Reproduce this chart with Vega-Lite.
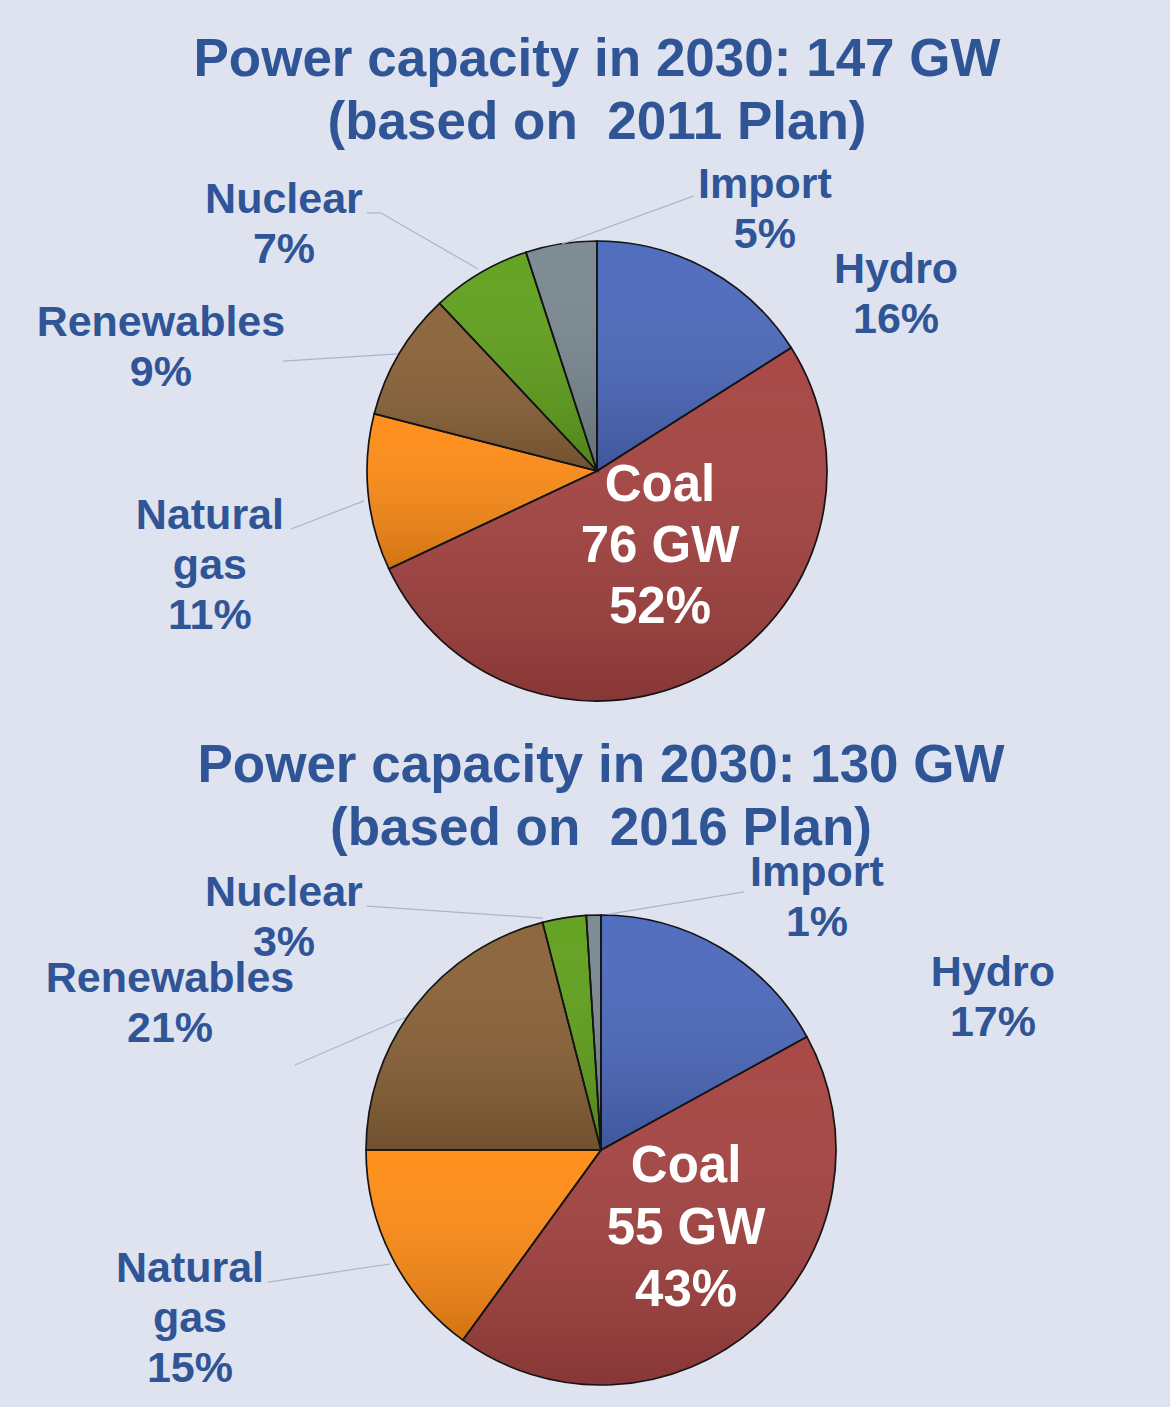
{
  "$schema": "https://vega.github.io/schema/vega-lite/v6.json",
  "background": "#dfe3ef",
  "padding": {"left": 32, "top": 33, "right": 0, "bottom": 0},
  "spacing": 9,
  "config": {
    "view": {"stroke": null},
    "font": "Liberation Sans",
    "title": {"font": "Liberation Sans", "fontSize": 53, "fontWeight": "bold", "color": "#2f5597", "lineHeight": 63, "anchor": "middle"}
  },
  "datasets": {
    "shares": [
      {"plan": "2011 Plan", "source": "Hydro", "share": 16, "rank": 1},
      {"plan": "2011 Plan", "source": "Coal", "share": 52, "gw": 76, "rank": 2},
      {"plan": "2011 Plan", "source": "Natural gas", "share": 11, "rank": 3},
      {"plan": "2011 Plan", "source": "Renewables", "share": 9, "rank": 4},
      {"plan": "2011 Plan", "source": "Nuclear", "share": 7, "rank": 5},
      {"plan": "2011 Plan", "source": "Import", "share": 5, "rank": 6},
      {"plan": "2016 Plan", "source": "Hydro", "share": 17, "rank": 1},
      {"plan": "2016 Plan", "source": "Coal", "share": 43, "gw": 55, "rank": 2},
      {"plan": "2016 Plan", "source": "Natural gas", "share": 15, "rank": 3},
      {"plan": "2016 Plan", "source": "Renewables", "share": 21, "rank": 4},
      {"plan": "2016 Plan", "source": "Nuclear", "share": 3, "rank": 5},
      {"plan": "2016 Plan", "source": "Import", "share": 1, "rank": 6}
    ],
    "layout_2011": [
      {"source": "Hydro", "lx": 1.300, "ly": 0.817},
      {"source": "Coal", "lx": 0.274, "ly": -0.130},
      {"source": "Natural gas", "lx": -1.683, "ly": -0.252},
      {"source": "Renewables", "lx": -1.896, "ly": 0.587},
      {"source": "Nuclear", "lx": -1.361, "ly": 1.122},
      {"source": "Import", "lx": 0.730, "ly": 1.187}
    ],
    "layout_2016": [
      {"source": "Hydro", "lx": 1.668, "ly": 0.698},
      {"source": "Coal", "lx": 0.362, "ly": -0.136},
      {"source": "Natural gas", "lx": -1.749, "ly": -0.562},
      {"source": "Renewables", "lx": -1.834, "ly": 0.672},
      {"source": "Nuclear", "lx": -1.349, "ly": 1.038},
      {"source": "Import", "lx": 0.919, "ly": 1.123}
    ],
    "leaders": [
      {"plan": "2011 Plan", "source": "Import", "x": 0.422, "y": 1.196, "x2": -0.152, "y2": 0.987},
      {"plan": "2011 Plan", "source": "Nuclear", "x": -1.0, "y": 1.122, "x2": -0.939, "y2": 1.122},
      {"plan": "2011 Plan", "source": "Nuclear", "x": -0.939, "y": 1.122, "x2": -0.517, "y2": 0.878},
      {"plan": "2011 Plan", "source": "Renewables", "x": -1.365, "y": 0.478, "x2": -0.865, "y2": 0.509},
      {"plan": "2011 Plan", "source": "Natural gas", "x": -1.330, "y": -0.252, "x2": -1.013, "y2": -0.130},
      {"plan": "2016 Plan", "source": "Import", "x": 0.609, "y": 1.098, "x2": 0.034, "y2": 1.004},
      {"plan": "2016 Plan", "source": "Nuclear", "x": -0.996, "y": 1.038, "x2": -0.247, "y2": 0.987},
      {"plan": "2016 Plan", "source": "Renewables", "x": -1.302, "y": 0.362, "x2": -0.830, "y2": 0.566},
      {"plan": "2016 Plan", "source": "Natural gas", "x": -1.417, "y": -0.562, "x2": -0.898, "y2": -0.485}
    ]
  },
  "vconcat": [
    {
      "title": {"text": ["Power capacity in 2030: 147 GW", "(based on\u00a0 2011 Plan)"], "offset": 14, "frame": "group"},
      "width": 1130,
      "height": 520,
      "layer": [
        {
          "data": {"name": "shares"},
          "transform": [{"filter": "datum.plan === '2011 Plan'"}],
          "mark": {"type": "arc", "outerRadius": 230},
          "encoding": {
            "theta": {"field": "share", "type": "quantitative", "stack": true},
            "order": {"field": "rank", "type": "quantitative"},
            "color": {"field": "source", "type": "nominal", "legend": null,
              "scale": {"domain": ["Hydro", "Coal", "Natural gas", "Renewables", "Nuclear", "Import"],
                        "range": ["#4c69bd", "#a54341", "#ff8c16", "#8a6238", "#60a01c", "#7a8891"]}}
          }
        },
        {
          "data": {"name": "shares"},
          "transform": [{"filter": "datum.plan === '2011 Plan'"}],
          "mark": {"type": "arc", "outerRadius": 230, "stroke": "#141414", "strokeWidth": 1.7,
            "fill": {"gradient": "linear", "x1": 0, "y1": 0, "x2": 0, "y2": 1,
              "stops": [{"offset": 0, "color": "rgba(255,255,255,0.03)"}, {"offset": 1, "color": "rgba(0,0,0,0.18)"}]}},
          "encoding": {
            "theta": {"field": "share", "type": "quantitative", "stack": true},
            "order": {"field": "rank", "type": "quantitative"}
          }
        },
        {
          "data": {"name": "leaders"},
          "transform": [{"filter": "datum.plan === '2011 Plan'"}],
          "mark": {"type": "rule", "color": "#aab5cb", "strokeWidth": 1.2},
          "encoding": {
            "x": {"field": "x", "type": "quantitative", "axis": null, "scale": {"domain": [-2.4565, 2.4565], "nice": false, "zero": false}},
            "y": {"field": "y", "type": "quantitative", "axis": null, "scale": {"domain": [-1.1304, 1.1304], "nice": false, "zero": false}},
            "x2": {"field": "x2"},
            "y2": {"field": "y2"}
          }
        },
        {
          "data": {"name": "shares"},
          "transform": [
            {"filter": "datum.plan === '2011 Plan' && datum.source !== 'Coal'"},
            {"lookup": "source", "from": {"data": {"name": "layout_2011"}, "key": "source", "fields": ["lx", "ly"]}},
            {"calculate": "replace(datum.source, ' ', '\\n') + '\\n' + datum.share + '%'", "as": "label"}
          ],
          "mark": {"type": "text", "fontSize": 43, "fontWeight": "bold", "color": "#2f5597", "lineHeight": 50, "lineBreak": "\n", "align": "center", "baseline": "alphabetic"},
          "encoding": {
            "x": {"field": "lx", "type": "quantitative", "axis": null, "scale": {"domain": [-2.4565, 2.4565], "nice": false, "zero": false}},
            "y": {"field": "ly", "type": "quantitative", "axis": null, "scale": {"domain": [-1.1304, 1.1304], "nice": false, "zero": false}},
            "text": {"field": "label", "type": "nominal"}
          }
        },
        {
          "data": {"name": "shares"},
          "transform": [
            {"filter": "datum.plan === '2011 Plan' && datum.source === 'Coal'"},
            {"lookup": "source", "from": {"data": {"name": "layout_2011"}, "key": "source", "fields": ["lx", "ly"]}},
            {"calculate": "datum.source + '\\n' + datum.gw + ' GW\\n' + datum.share + '%'", "as": "label"}
          ],
          "mark": {"type": "text", "fontSize": 51, "fontWeight": "bold", "color": "#ffffff", "lineHeight": 61, "lineBreak": "\n", "align": "center", "baseline": "alphabetic"},
          "encoding": {
            "x": {"field": "lx", "type": "quantitative", "axis": null, "scale": {"domain": [-2.4565, 2.4565], "nice": false, "zero": false}},
            "y": {"field": "ly", "type": "quantitative", "axis": null, "scale": {"domain": [-1.1304, 1.1304], "nice": false, "zero": false}},
            "text": {"field": "label", "type": "nominal"}
          }
        }
      ]
    },
    {
      "title": {"text": ["Power capacity in 2030: 130 GW", "(based on\u00a0 2016 Plan)"], "offset": -4, "frame": "group"},
      "width": 1138,
      "height": 514,
      "layer": [
        {
          "data": {"name": "shares"},
          "transform": [{"filter": "datum.plan === '2016 Plan'"}],
          "mark": {"type": "arc", "outerRadius": 235},
          "encoding": {
            "theta": {"field": "share", "type": "quantitative", "stack": true},
            "order": {"field": "rank", "type": "quantitative"},
            "color": {"field": "source", "type": "nominal", "legend": null,
              "scale": {"domain": ["Hydro", "Coal", "Natural gas", "Renewables", "Nuclear", "Import"],
                        "range": ["#4c69bd", "#a54341", "#ff8c16", "#8a6238", "#60a01c", "#7a8891"]}}
          }
        },
        {
          "data": {"name": "shares"},
          "transform": [{"filter": "datum.plan === '2016 Plan'"}],
          "mark": {"type": "arc", "outerRadius": 235, "stroke": "#141414", "strokeWidth": 1.7,
            "fill": {"gradient": "linear", "x1": 0, "y1": 0, "x2": 0, "y2": 1,
              "stops": [{"offset": 0, "color": "rgba(255,255,255,0.03)"}, {"offset": 1, "color": "rgba(0,0,0,0.18)"}]}},
          "encoding": {
            "theta": {"field": "share", "type": "quantitative", "stack": true},
            "order": {"field": "rank", "type": "quantitative"}
          }
        },
        {
          "data": {"name": "leaders"},
          "transform": [{"filter": "datum.plan === '2016 Plan'"}],
          "mark": {"type": "rule", "color": "#aab5cb", "strokeWidth": 1.2},
          "encoding": {
            "x": {"field": "x", "type": "quantitative", "axis": null, "scale": {"domain": [-2.4213, 2.4213], "nice": false, "zero": false}},
            "y": {"field": "y", "type": "quantitative", "axis": null, "scale": {"domain": [-1.0936, 1.0936], "nice": false, "zero": false}},
            "x2": {"field": "x2"},
            "y2": {"field": "y2"}
          }
        },
        {
          "data": {"name": "shares"},
          "transform": [
            {"filter": "datum.plan === '2016 Plan' && datum.source !== 'Coal'"},
            {"lookup": "source", "from": {"data": {"name": "layout_2016"}, "key": "source", "fields": ["lx", "ly"]}},
            {"calculate": "replace(datum.source, ' ', '\\n') + '\\n' + datum.share + '%'", "as": "label"}
          ],
          "mark": {"type": "text", "fontSize": 43, "fontWeight": "bold", "color": "#2f5597", "lineHeight": 50, "lineBreak": "\n", "align": "center", "baseline": "alphabetic"},
          "encoding": {
            "x": {"field": "lx", "type": "quantitative", "axis": null, "scale": {"domain": [-2.4213, 2.4213], "nice": false, "zero": false}},
            "y": {"field": "ly", "type": "quantitative", "axis": null, "scale": {"domain": [-1.0936, 1.0936], "nice": false, "zero": false}},
            "text": {"field": "label", "type": "nominal"}
          }
        },
        {
          "data": {"name": "shares"},
          "transform": [
            {"filter": "datum.plan === '2016 Plan' && datum.source === 'Coal'"},
            {"lookup": "source", "from": {"data": {"name": "layout_2016"}, "key": "source", "fields": ["lx", "ly"]}},
            {"calculate": "datum.source + '\\n' + datum.gw + ' GW\\n' + datum.share + '%'", "as": "label"}
          ],
          "mark": {"type": "text", "fontSize": 51, "fontWeight": "bold", "color": "#ffffff", "lineHeight": 62, "lineBreak": "\n", "align": "center", "baseline": "alphabetic"},
          "encoding": {
            "x": {"field": "lx", "type": "quantitative", "axis": null, "scale": {"domain": [-2.4213, 2.4213], "nice": false, "zero": false}},
            "y": {"field": "ly", "type": "quantitative", "axis": null, "scale": {"domain": [-1.0936, 1.0936], "nice": false, "zero": false}},
            "text": {"field": "label", "type": "nominal"}
          }
        }
      ]
    }
  ]
}
